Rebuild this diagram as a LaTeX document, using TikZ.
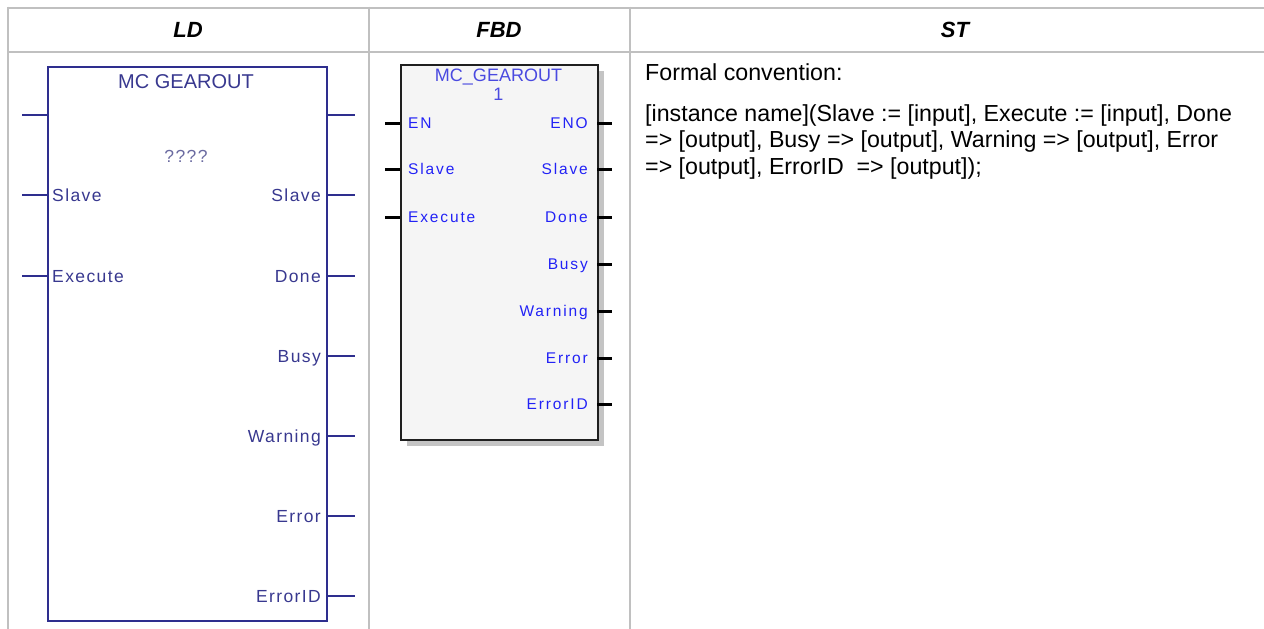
\documentclass[tikz,border=0pt]{standalone}
\usepackage{fontspec}
\setmainfont{Liberation Sans}
\newfontfamily\lblfont[LetterSpace=8]{Liberation Sans}
\newfontfamily\fbdfont[LetterSpace=12]{Liberation Sans}
\definecolor{gridc}{HTML}{C0C0C0}
\definecolor{ldline}{HTML}{2E2E8E}
\definecolor{ldtext}{HTML}{38388F}
\definecolor{ldq}{HTML}{6A6AA0}
\definecolor{fbdtext}{HTML}{2222F5}
\definecolor{fbdtitle}{HTML}{4A4AE0}
\definecolor{fbdfill}{HTML}{F5F5F5}
\definecolor{fbdshadow}{HTML}{C4C4C4}
\tikzset{
  gridline/.style={draw=gridc, line width=2pt},
  hdr/.style={font=\fontsize{22}{26}\selectfont\bfseries\itshape, anchor=base, inner sep=0pt},
  ldwire/.style={draw=ldline, line width=2pt},
  ldlbl/.style={font=\lblfont\fontsize{17.5}{20}\selectfont, text=ldtext, inner sep=0pt},
  ldtitle/.style={font=\fontsize{20}{24}\selectfont, text=ldtext, inner sep=0pt, anchor=base},
  fbdwire/.style={draw=black, line width=3pt},
  fbdlbl/.style={font=\fbdfont\fontsize{15.5}{18}\selectfont, text=fbdtext, inner sep=0pt},
  fbdtit/.style={font=\fontsize{18}{20}\selectfont, text=fbdtitle, inner sep=0pt, anchor=base},
  sttext/.style={font=\fontsize{23.2}{27}\selectfont, inner sep=0pt, anchor=base west}
}
\begin{document}
\begin{tikzpicture}[x=1pt,y=-1pt]
\useasboundingbox (0,0) rectangle (1264,629);
% table grid
\draw[gridline] (7.5,7.5) -- (1264,7.5);
\draw[gridline] (7.5,52) -- (1264,52);
\draw[gridline] (7.5,6.5) -- (7.5,629);
\draw[gridline] (369,6.5) -- (369,629);
\draw[gridline] (630,6.5) -- (630,629);
% headers
\node[hdr] (hLD) at (188,37) {LD};
\node[hdr] (hFBD) at (499,37) {FBD};
\node[hdr] (hST) at (955,37) {ST};

% ---------- LD block ----------
\node[draw=ldline, line width=2pt, minimum width=279pt, minimum height=554pt, anchor=north west, inner sep=0pt] (ld) at (47,66) {};
\node[ldtitle] (ldt) at (186,88) {MC GEAROUT};
\node[ldlbl, text=ldq, anchor=base] (ldq) at (186,162) {????};
% stubs
\foreach \yy/\nm in {115/a,195/b,276/c}{
  \coordinate (ldL\nm) at (22,\yy);
  \coordinate (ldLe\nm) at (47,\yy);
  \draw[ldwire] (ldL\nm) -- (ldLe\nm);
}
\foreach \yy/\nm in {115/a,195/b,276/c,356/d,436/e,516/f,596/g}{
  \coordinate (ldRs\nm) at (326,\yy);
  \coordinate (ldR\nm) at (355,\yy);
  \draw[ldwire] (ldRs\nm) -- (ldR\nm);
}
\node[ldlbl, anchor=base west] (ldinS) at (52,201.5) {Slave};
\node[ldlbl, anchor=base west] (ldinE) at (52,282.5) {Execute};
\node[ldlbl, anchor=base east] (ldoS) at (321,201.5) {Slave};
\node[ldlbl, anchor=base east] (ldoD) at (321,282.5) {Done};
\node[ldlbl, anchor=base east] (ldoB) at (321,362.5) {Busy};
\node[ldlbl, anchor=base east] (ldoW) at (321,442.5) {Warning};
\node[ldlbl, anchor=base east] (ldoE) at (321,522.5) {Error};
\node[ldlbl, anchor=base east] (ldoI) at (321,602.5) {ErrorID};

% ---------- FBD block ----------
\fill[fbdshadow] (407,71) rectangle (604,446);
\node[draw=black!88, fill=fbdfill, line width=2pt, minimum width=197pt, minimum height=375pt, anchor=north west, inner sep=0pt] (fbd) at (400,64) {};
\node[fbdtit] (fbdt) at (498.5,81) {MC\_GEAROUT};
\node[fbdtit] (fbdn) at (498.5,100) {1};
\foreach \yy/\nm in {123/a,169/b,217/c}{
  \coordinate (fbL\nm) at (385,\yy);
  \coordinate (fbLe\nm) at (400,\yy);
  \draw[fbdwire] (fbL\nm) -- (fbLe\nm);
}
\foreach \yy/\nm in {123/a,169/b,217/c,264/d,311/e,358/f,404/g}{
  \coordinate (fbRs\nm) at (597,\yy);
  \coordinate (fbR\nm) at (612,\yy);
  \draw[fbdwire] (fbRs\nm) -- (fbR\nm);
}
\node[fbdlbl, anchor=base west] (fbinEN) at (408,128.5) {EN};
\node[fbdlbl, anchor=base west] (fbinS) at (408,174.5) {Slave};
\node[fbdlbl, anchor=base west] (fbinE) at (408,222.5) {Execute};
\node[fbdlbl, anchor=base east] (fboENO) at (588,128.5) {ENO};
\node[fbdlbl, anchor=base east] (fboS) at (588,174.5) {Slave};
\node[fbdlbl, anchor=base east] (fboD) at (588,222.5) {Done};
\node[fbdlbl, anchor=base east] (fboB) at (588,269.5) {Busy};
\node[fbdlbl, anchor=base east] (fboW) at (588,316.5) {Warning};
\node[fbdlbl, anchor=base east] (fboE) at (588,363.5) {Error};
\node[fbdlbl, anchor=base east] (fboI) at (588,409.5) {ErrorID};

% ---------- ST text ----------
\node[sttext] (st0) at (645,80.5) {Formal convention:};
\node[sttext] (st1) at (645,121) {[instance name](Slave := [input], Execute := [input], Done};
\node[sttext] (st2) at (645,147.5) {=> [output], Busy => [output], Warning => [output], Error};
\node[sttext] (st3) at (645,174) {=> [output], ErrorID\ \ => [output]);};
\end{tikzpicture}
\end{document}
